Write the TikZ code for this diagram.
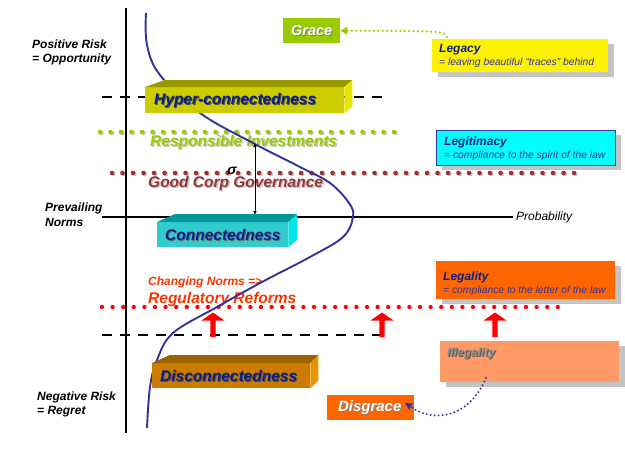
\documentclass[tikz,border=0pt]{standalone}
\usepackage{fontspec}
\setmainfont{Liberation Sans}
\usetikzlibrary{arrows.meta,calc,shadows}
\definecolor{grn}{HTML}{99CC00}
\definecolor{brn}{HTML}{993333}
\definecolor{chg}{HTML}{FF3300}
\definecolor{crv}{HTML}{333399}
\definecolor{navy}{HTML}{0A1F8A}
\definecolor{subc}{HTML}{3333AA}
\definecolor{hyF}{HTML}{CCCC00}
\definecolor{hyT}{HTML}{999900}
\definecolor{hyR}{HTML}{E6E600}
\definecolor{coF}{HTML}{33CCCC}
\definecolor{coT}{HTML}{009999}
\definecolor{coR}{HTML}{00E6E6}
\definecolor{diF}{HTML}{CC7A00}
\definecolor{diT}{HTML}{996100}
\definecolor{diR}{HTML}{E69500}
\definecolor{orng}{HTML}{FF6600}
\definecolor{salm}{HTML}{FF9966}
\definecolor{cyanb}{HTML}{00FFFF}
\definecolor{shd}{HTML}{C4C4C4}
\begin{document}
\begin{tikzpicture}[x=1pt,y=-1pt,
  lbl/.style={font=\fontsize{12}{14}\selectfont\bfseries\itshape, inner sep=0pt, anchor=base west},
  big/.style={font=\fontsize{15.5}{18}\selectfont\bfseries\itshape, inner sep=0pt, anchor=base west},
  subt/.style={font=\fontsize{10.3}{12}\selectfont\itshape, text=subc, inner sep=0pt, anchor=base west},
  front/.style={inner sep=0pt, anchor=north west},
  boxtxt/.style={font=\fontsize{15.5}{18}\selectfont\bfseries\itshape, text=navy, inner sep=0pt, anchor=west},
  legbox/.style={inner sep=0pt, anchor=north west, drop shadow={shadow xshift=6pt, shadow yshift=-5pt, fill=shd, opacity=1}},
  dotline/.style={line width=4.6pt, line cap=round, dash pattern=on 0pt off 10.5pt},
  dashline/.style={line width=2.8pt, dash pattern=on 10pt off 8pt},
  axisline/.style={line width=2.4pt},
  redarrow/.style={fill=red},
  blk/.style={inner sep=0pt}
]
\useasboundingbox (0,0) rectangle (625,459);

% dotted reference lines
\draw[dotline, shd] (101.5,133) -- (398.5,133);
\draw[dotline, grn] (100,132) -- (397,132);
\draw[dotline, shd] (113.5,174) -- (578.5,174);
\draw[dotline, brn] (112,173) -- (577,173);
\draw[dotline, red, line width=4.3pt, dash pattern=on 0pt off 10.6pt] (102,307) -- (565,307);

% dashed lines and axes
\draw[dashline] (102,97) -- (387,97);
\draw[dashline] (102,335) -- (387,335);
\draw[axisline] (126,8) -- (126,433);
\draw[axisline] (102,217) -- (513,217);
\node[font=\fontsize{12}{14}\selectfont\itshape, inner sep=0pt, anchor=west] (prob) at (516,217) {Probability};

% left labels
\node[lbl] (pos1) at (32,48) {Positive Risk};
\node[lbl] (pos2) at (32,62) {= Opportunity};
\node[lbl] (pre1) at (45,211) {Prevailing};
\node[lbl] (pre2) at (45,226) {Norms};
\node[lbl] (neg1) at (37,400) {Negative Risk};
\node[lbl] (neg2) at (37,414) {= Regret};

% middle texts
\node[big, text=shd] (respsh) at (151.5,147.5) {Responsible Investments};
\node[big, text=grn] (resp) at (150,146) {Responsible Investments};
\node[big, text=shd] (govsh) at (149.5,188.5) {Good Corp Governance};
\node[big, text=brn] (gov) at (148,187) {Good Corp Governance};
\node[lbl, text=chg] (chgn) at (148,285) {Changing Norms =>};
\node[big, text=chg] (reg) at (148,303) {Regulatory Reforms};
\node[font=\fontsize{14}{16}\selectfont\bfseries\itshape, inner sep=0pt] (sig) at (232,171) {σ};

% curve
\draw[crv, line width=1.9pt] plot[smooth, tension=0.6] coordinates {(146,13) (147,45) (160,75) (200,113) (253,143) (300,167) (330,183) (349,203) (353,217) (343,237) (310,257) (262,282) (217,307) (173,333) (157,360) (150,387) (147,428)};

% sigma arrow
\coordinate (stop) at (255,143);
\coordinate (sbot) at (255,215);
\draw[{Latex[length=4pt,width=3.5pt]}-{Latex[length=4pt,width=3.5pt]}, line width=0.6pt] (stop) -- (sbot);

% 3D boxes
\node[front, fill=hyF, minimum width=199pt, minimum height=26pt] (hyper) at (145,87) {};
\fill[hyT] (hyper.north west) -- ++(20,-7) -- ([shift={(8,-7)}]hyper.north east) -- (hyper.north east) -- cycle;
\fill[hyR] (hyper.north east) -- ++(8,-7) -- ([shift={(8,-7)}]hyper.south east) -- (hyper.south east) -- cycle;
\node[boxtxt, text=black!70] (hypersh) at ([shift={(10,1)}]hyper.west) {Hyper-connectedness};
\node[boxtxt] (hypertxt) at ([xshift=9]hyper.west) {Hyper-connectedness};

\node[front, fill=coF, minimum width=131pt, minimum height=25pt] (conn) at (157,222) {};
\fill[coT] (conn.north west) -- ++(18,-8) -- ([shift={(9,-8)}]conn.north east) -- (conn.north east) -- cycle;
\fill[coR] (conn.north east) -- ++(9,-8) -- ([shift={(9,-8)}]conn.south east) -- (conn.south east) -- cycle;
\node[boxtxt, text=black!60] (connsh) at ([shift={(9,1)}]conn.west) {Connectedness};
\node[boxtxt] (conntxt) at ([xshift=8]conn.west) {Connectedness};

\node[front, fill=diF, minimum width=158pt, minimum height=25pt] (disc) at (152,363) {};
\fill[diT] (disc.north west) -- ++(18,-8) -- ([shift={(8,-8)}]disc.north east) -- (disc.north east) -- cycle;
\fill[diR] (disc.north east) -- ++(8,-8) -- ([shift={(8,-8)}]disc.south east) -- (disc.south east) -- cycle;
\node[boxtxt, text=black!70] (discsh) at ([shift={(9,1)}]disc.west) {Disconnectedness};
\node[boxtxt] (disctxt) at ([xshift=8]disc.west) {Disconnectedness};

% red up arrows
\foreach \n/\ax in {ra/213, rb/382, rc/495}{
  \fill[redarrow] (\ax-11.5,320.5) -- (\ax,312.5) -- (\ax+11.5,320.5) -- (\ax+2.7,320.5) -- (\ax+2.7,337) -- (\ax-2.7,337) -- (\ax-2.7,320.5) -- cycle;
}

% legend boxes
\node[legbox, fill=yellow, minimum width=176pt, minimum height=33pt] (legacy) at (432,39) {};
\node[lbl, text=navy] (legacyT) at (439,52) {Legacy};
\node[subt] (legacyS) at (439,65) {= leaving beautiful “traces” behind};

\node[legbox, fill=cyanb, draw=subc, line width=0.8pt, minimum width=179pt, minimum height=35pt] (legit) at (436,130) {};
\node[lbl, text=navy] (legitT) at (444,145) {Legitimacy};
\node[subt] (legitS) at (444,158) {= compliance to the spirit of the law};

\node[legbox, fill=orng, minimum width=179pt, minimum height=38pt] (legal) at (436,261) {};
\node[lbl, text=navy] (legalT) at (443,280) {Legality};
\node[subt, text=crv] (legalS) at (443,293) {= compliance to the letter of the law};

\node[legbox, fill=salm, minimum width=179pt, minimum height=41pt] (illeg) at (440,341) {};
\node[lbl, text=black!65] (illegsh) at (448,357) {Illegality};
\node[lbl, text=black!45] (illegT) at (447,356) {Illegality};

% Grace / Disgrace
\node[front, fill=grn, minimum width=57pt, minimum height=25pt] (grace) at (283,18) {};
\node[font=\fontsize{14.5}{17}\selectfont\bfseries\itshape, text=black!50, inner sep=0pt] (gracesh) at ([shift={(1,1)}]grace.center) {Grace};
\node[font=\fontsize{14.5}{17}\selectfont\bfseries\itshape, text=white, inner sep=0pt] (gracetxt) at (grace.center) {Grace};

\node[front, fill=orng, minimum width=87pt, minimum height=25pt] (disg) at (327,395) {};
\node[font=\fontsize{15}{18}\selectfont\bfseries\itshape, text=black!50, inner sep=0pt] (disgsh) at ([shift={(0,1)}]disg.center) {Disgrace};
\node[font=\fontsize{15}{18}\selectfont\bfseries\itshape, text=white, inner sep=0pt] (disgtxt) at ([xshift=-1]disg.center) {Disgrace};

% dotted connectors
\coordinate (gstart) at (447,37);
\draw[grn, line width=2.4pt, line cap=round, dash pattern=on 0pt off 4.4pt] (gstart) .. controls (444,31) .. ([xshift=4]grace.east);
\fill[grn] (grace.east) -- ++(7,-4) -- ++(0,8) -- cycle;

\coordinate (dstart) at (486,378);
\draw[crv, line width=2.2pt, line cap=round, dash pattern=on 0pt off 4pt] (dstart) .. controls (468,420) and (432,422) .. (411,407);
\fill[crv] (405,403) -- (413,403.5) -- (409,409.5) -- cycle;
\end{tikzpicture}
\end{document}
